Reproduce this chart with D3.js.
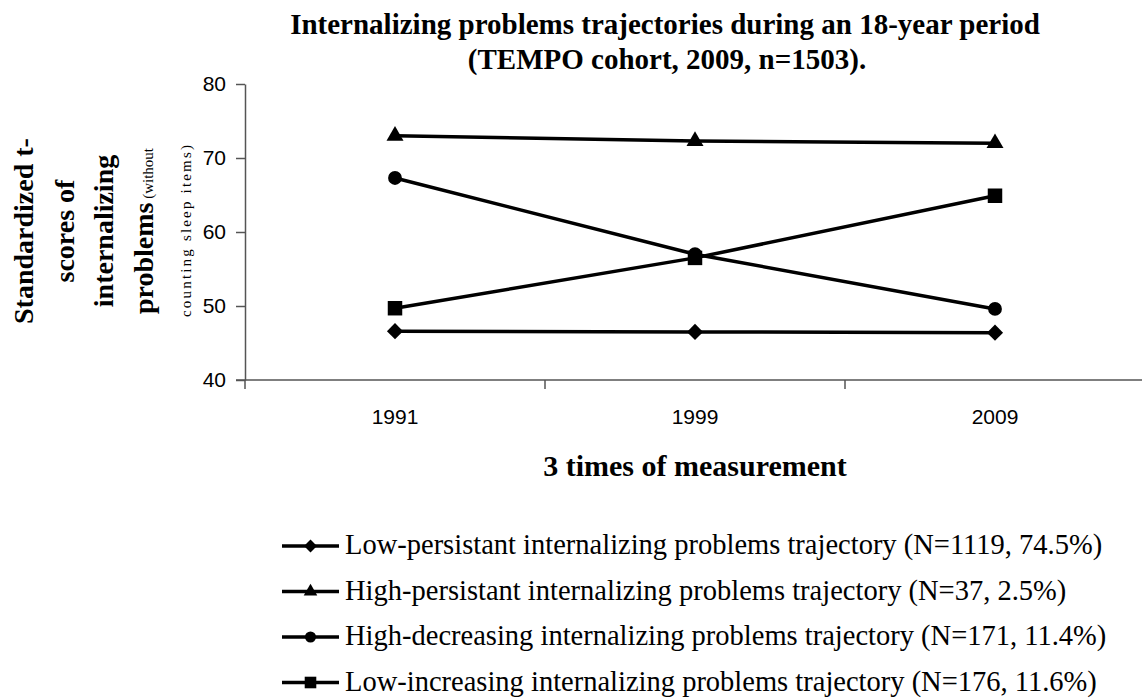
<!DOCTYPE html>
<html>
<head>
<meta charset="utf-8">
<script src="https://cdn.jsdelivr.net/npm/d3@7"></script>
<style>
    body { margin: 0; background: #fff; }
    .serif { font-family: 'Liberation Serif', 'Times New Roman', serif; fill: #000; }
    .axis text { font-family: 'Liberation Sans', Arial, sans-serif; font-size: 21px; fill: #000; }
    .axis line, .axis path { stroke: #555; stroke-width: 1.5px; }
</style>
</head>
<body>
<div id="myChart"></div>
<script>
// values
let years = ['1991', '1999', '2009'];
let yTicks = [40, 50, 60, 70, 80];
let lowPersistent = [46.6, 46.5, 46.4];
let highPersistent = [73.0, 72.3, 72.0];
let highDecreasing = [67.3, 57.0, 49.6];
let lowIncreasing = [49.7, 56.5, 64.9];
let legendLabels = [
    'Low-persistant internalizing problems trajectory (N=1119, 74.5%)',
    'High-persistant internalizing problems trajectory (N=37, 2.5%)',
    'High-decreasing internalizing problems trajectory (N=171, 11.4%)',
    'Low-increasing internalizing problems trajectory (N=176, 11.6%)',
];

let series = [
    { name: legendLabels[0], values: lowPersistent, symbol: 'diamond' },
    { name: legendLabels[1], values: highPersistent, symbol: 'triangle' },
    { name: legendLabels[2], values: highDecreasing, symbol: 'circle' },
    { name: legendLabels[3], values: lowIncreasing, symbol: 'square' },
];

let margin = { top: 84, right: -3, bottom: 320, left: 245 };
let width = 1142 - margin.left - margin.right;
let height = 700 - margin.top - margin.bottom;

let svgRoot = d3
    .select('#myChart')
    .append('svg')
    .attr('width', 1142)
    .attr('height', 700);

let svg = svgRoot
    .append('g')
    .attr('transform', 'translate(' + margin.left + ',' + margin.top + ')');

let x = d3.scaleBand().domain(years).range([0, width]);
let y = d3.scaleLinear().domain([40, 80]).range([height, 0]);

let cx = (i) => x(years[i]) + x.bandwidth() / 2;

// marker path for a series, scale k
function marker(sym, k) {
    if (sym === 'diamond') {
        return { d: d3.symbol(d3.symbolSquare, 130 * k * k)(), rot: 45 };
    }
    if (sym === 'triangle') {
        return { d: d3.symbol(d3.symbolTriangle, 125 * k * k)(), rot: 0 };
    }
    if (sym === 'circle') {
        return { d: d3.symbol(d3.symbolCircle, 150 * k * k)(), rot: 0 };
    }
    return { d: d3.symbol(d3.symbolSquare, 210 * k * k)(), rot: 0 };
}

// y axis
svg.append('g')
    .attr('class', 'axis')
    .call(d3.axisLeft(y).tickValues(yTicks).tickSize(9).tickSizeOuter(0).tickPadding(10));

// x axis: labels in the middle of each band, ticks between bands
let xAxis = svg
    .append('g')
    .attr('class', 'axis')
    .attr('transform', 'translate(0,' + height + ')')
    .call(d3.axisBottom(x).tickSize(0).tickPadding(29));
xAxis.select('.domain').remove();

xAxis
    .append('line')
    .attr('x1', -9)
    .attr('x2', width)
    .attr('y1', 0)
    .attr('y2', 0);

xAxis
    .selectAll('.edge')
    .data(years.map((d) => x(d)).concat([x(years[years.length - 1]) + x.bandwidth()]))
    .enter()
    .append('line')
    .attr('class', 'edge')
    .attr('x1', (d) => d)
    .attr('x2', (d) => d)
    .attr('y1', 0)
    .attr('y2', 9);

// lines + markers
let line = d3
    .line()
    .x((d, i) => cx(i))
    .y((d) => y(d));

svg.selectAll('.series')
    .data(series)
    .enter()
    .append('path')
    .attr('class', 'series')
    .attr('d', (d) => line(d.values))
    .attr('fill', 'none')
    .attr('stroke', '#000')
    .attr('stroke-width', 3.5);

series.forEach(function (s) {
    let m = marker(s.symbol, 1);
    svg.selectAll('.pt-' + s.symbol)
        .data(s.values)
        .enter()
        .append('path')
        .attr('d', m.d)
        .attr('fill', '#000')
        .attr('transform', (d, i) => 'translate(' + cx(i) + ',' + y(d) + ') rotate(' + m.rot + ')');
});

// title
svgRoot
    .append('text')
    .attr('class', 'serif')
    .attr('x', 665)
    .attr('y', 34)
    .style('text-anchor', 'middle')
    .style('font-size', '29px')
    .style('font-weight', 'bold')
    .text('Internalizing problems trajectories during an 18-year period');

svgRoot
    .append('text')
    .attr('class', 'serif')
    .attr('x', 667)
    .attr('y', 69)
    .style('text-anchor', 'middle')
    .style('font-size', '29px')
    .style('font-weight', 'bold')
    .text('(TEMPO cohort, 2009, n=1503).');

// x label
svgRoot
    .append('text')
    .attr('class', 'serif')
    .attr('x', 695)
    .attr('y', 476)
    .style('text-anchor', 'middle')
    .style('font-size', '30px')
    .style('font-weight', 'bold')
    .text('3 times of measurement');

// y label, five rotated lines
let yLab = [
    { x: 33, big: 'Standardized t-', small: '' },
    { x: 74, big: 'scores of', small: '' },
    { x: 113, big: 'internalizing', small: '' },
    { x: 153, big: 'problems', small: ' (without' },
    { x: 191, big: '', small: 'counting sleep items)' },
];

yLab.forEach(function (l) {
    let t = svgRoot
        .append('text')
        .attr('class', 'serif')
        .attr('transform', 'translate(' + l.x + ',231) rotate(-90)')
        .style('text-anchor', 'middle');
    if (l.big) {
        t.append('tspan').style('font-size', '28px').style('font-weight', 'bold').text(l.big);
    }
    if (l.small) {
        let s = t.append('tspan').style('font-size', '15px').text(l.small);
        if (!l.big) s.attr('textLength', 172).attr('lengthAdjust', 'spacing');
    }
});

// legend
let legend = svgRoot
    .selectAll('.legend')
    .data(series)
    .enter()
    .append('g')
    .attr('class', 'legend')
    .attr('transform', (d, i) => 'translate(282,' + (546 + i * 45.5) + ')');

legend
    .append('line')
    .attr('x1', 0)
    .attr('x2', 57)
    .attr('stroke', '#000')
    .attr('stroke-width', 3.5);

legend
    .append('path')
    .attr('d', (d) => marker(d.symbol, 0.8).d)
    .attr('transform', (d) => 'translate(28.5,0) rotate(' + marker(d.symbol, 0.8).rot + ')')
    .attr('fill', '#000');

let legendText = legend
    .append('text')
    .attr('class', 'serif')
    .attr('x', 63)
    .attr('y', 8)
    .style('font-size', '28.5px')
    .text((d) => d.name);

// fit the legend width, third row should end near x=1110
let natural = legendText.nodes()[2].getComputedTextLength();
let k = Math.min(1, (1110 - 345) / natural);
legendText.each(function () {
    let w = this.getComputedTextLength();
    d3.select(this).attr('textLength', w * k).attr('lengthAdjust', 'spacingAndGlyphs');
});
</script>
</body>
</html>
